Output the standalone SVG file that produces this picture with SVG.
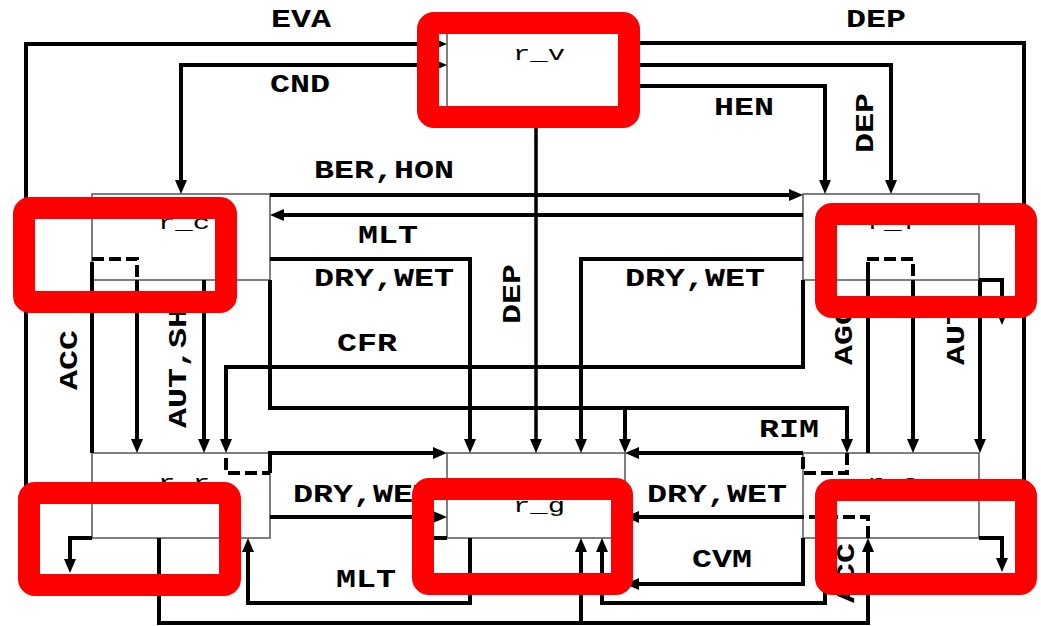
<svg xmlns="http://www.w3.org/2000/svg" width="1041" height="626" viewBox="0 0 1041 626">
<style>
.box{fill:#fff;stroke:#555;stroke-width:1.5}
.name{font-family:"Liberation Mono",monospace;font-size:20px;fill:#000;text-anchor:middle}
.lbl{font-family:"Liberation Mono",monospace;font-size:26px;font-weight:bold;fill:#000;text-anchor:middle}
.c{fill:none;stroke:#000;stroke-width:4;stroke-linejoin:miter}
.a{marker-end:url(#ah)}
.d{fill:none;stroke:#000;stroke-width:4;stroke-dasharray:12,5}
.hl{fill:none;stroke:#ff0000;stroke-width:22}
</style>
<defs>
<marker id="ah" markerWidth="14" markerHeight="12" refX="9" refY="6" orient="auto" markerUnits="userSpaceOnUse"><path d="M0,0 L14,6 L0,12 z" fill="#000"/></marker>
<marker id="ahs" markerWidth="14" markerHeight="12" refX="9" refY="6" orient="auto-start-reverse" markerUnits="userSpaceOnUse"><path d="M0,0 L14,6 L0,12 z" fill="#000"/></marker>
</defs>
<rect width="1041" height="626" fill="#fff"/>
<g id="r_v"><rect class="box" x="447" y="25" width="178" height="87"/><text class="name" x="539" y="60" textLength="52" lengthAdjust="spacingAndGlyphs">r_v</text></g>
<g id="r_c"><rect class="box" x="92" y="194" width="178" height="86"/><text class="name" x="184" y="229" textLength="52" lengthAdjust="spacingAndGlyphs">r_c</text></g>
<g id="r_f"><rect class="box" x="803" y="194" width="176" height="86"/><text class="name" x="893" y="229" textLength="52" lengthAdjust="spacingAndGlyphs">r_f</text></g>
<g id="r_r"><rect class="box" x="92" y="453" width="178" height="85"/><text class="name" x="184" y="489" textLength="52" lengthAdjust="spacingAndGlyphs">r_r</text></g>
<g id="r_g"><rect class="box" x="447" y="453" width="178" height="85"/><text class="name" x="539" y="512" textLength="52" lengthAdjust="spacingAndGlyphs">r_g</text></g>
<g id="r_s"><rect class="box" x="803" y="453" width="176" height="85"/><text class="name" x="893" y="489" textLength="52" lengthAdjust="spacingAndGlyphs">r_s</text></g>
<g id="connectors">
<path class="c a" d="M26,490 V44 H442"/>
<path class="c a" d="M442,65 H181 V189" marker-start="url(#ahs)"/>
<path class="c a" d="M1024,490 V43 H630"/>
<path class="c a" d="M625,65 H891 V189"/>
<path class="c a" d="M625,86 H825 V189"/>
<path class="c a" d="M536,112 V448" style="stroke-width:3.5"/>
<path class="c a" d="M270,195 H798"/>
<path class="c a" d="M803,215 H275"/>
<path class="c a" d="M270,259 H470 V448"/>
<path class="c a" d="M803,259 H581 V448"/>
<path class="c a" d="M803,280 V367 H226 V448"/>
<path class="c a" d="M270,280 V408 H847 V448"/>
<path class="c a" d="M625,408 V448"/>
<path class="d" d="M92,259 H137 V280"/>
<path class="c" d="M92,262 V453"/>
<path class="c a" d="M137,280 V448"/>
<path class="c a" d="M204,280 V448"/>
<path class="d" d="M867,259 H913 V280"/>
<path class="c" d="M868,262 V453"/>
<path class="c a" d="M913,280 V448"/>
<path class="c a" d="M980,280 V448"/>
<path class="c a" d="M979,280 H1002 V320"/>
<path class="d" d="M226,458 V473 H270"/>
<path class="c a" d="M270,473 V453 H442"/>
<path class="c a" d="M270,517 H442"/>
<path class="d" d="M847,453 V473 H803 V455"/>
<path class="c a" d="M803,453 H630"/>
<path class="d" d="M868,538 V517 H803"/>
<path class="c a" d="M803,517 H630"/>
<path class="c a" d="M159,538 V623 H868 V543"/>
<path class="c a" d="M581,623 V543"/>
<path class="c a" d="M470,538 V603 H248 V543"/>
<path class="c a" d="M825,538 V603 H602 V543"/>
<path class="c a" d="M803,538 V584 H630"/>
<path class="c a" d="M92,538 H70 V568"/>
<path class="c a" d="M447,538 H425 V568"/>
<path class="c a" d="M979,538 H1002 V567"/>
</g>
<g id="labels">
<text class="lbl" x="301" y="27" textLength="60" lengthAdjust="spacingAndGlyphs">EVA</text>
<text class="lbl" x="876" y="27" textLength="60" lengthAdjust="spacingAndGlyphs">DEP</text>
<text class="lbl" x="300" y="92" textLength="60" lengthAdjust="spacingAndGlyphs">CND</text>
<text class="lbl" x="744" y="115" textLength="60" lengthAdjust="spacingAndGlyphs">HEN</text>
<text class="lbl" x="384" y="178" textLength="140" lengthAdjust="spacingAndGlyphs">BER,HON</text>
<text class="lbl" x="388" y="243" textLength="60" lengthAdjust="spacingAndGlyphs">MLT</text>
<text class="lbl" x="384" y="286" textLength="140" lengthAdjust="spacingAndGlyphs">DRY,WET</text>
<text class="lbl" x="695" y="286" textLength="140" lengthAdjust="spacingAndGlyphs">DRY,WET</text>
<text class="lbl" x="367" y="351" textLength="60" lengthAdjust="spacingAndGlyphs">CFR</text>
<text class="lbl" x="789" y="437" textLength="60" lengthAdjust="spacingAndGlyphs">RIM</text>
<text class="lbl" x="363" y="502" textLength="140" lengthAdjust="spacingAndGlyphs">DRY,WET</text>
<text class="lbl" x="717" y="502" textLength="140" lengthAdjust="spacingAndGlyphs">DRY,WET</text>
<text class="lbl" x="366" y="587" textLength="60" lengthAdjust="spacingAndGlyphs">MLT</text>
<text class="lbl" x="722" y="567" textLength="60" lengthAdjust="spacingAndGlyphs">CVM</text>
<text class="lbl" transform="translate(68,360) rotate(-90)" x="0" y="9" textLength="60" lengthAdjust="spacingAndGlyphs">ACC</text>
<text class="lbl" transform="translate(177,368) rotate(-90)" x="0" y="9" textLength="120" lengthAdjust="spacingAndGlyphs">AUT,SH</text>
<text class="lbl" transform="translate(511,294) rotate(-90)" x="0" y="9" textLength="60" lengthAdjust="spacingAndGlyphs">DEP</text>
<text class="lbl" transform="translate(864,123) rotate(-90)" x="0" y="9" textLength="60" lengthAdjust="spacingAndGlyphs">DEP</text>
<text class="lbl" transform="translate(843,335) rotate(-90)" x="0" y="9" textLength="60" lengthAdjust="spacingAndGlyphs">AGG</text>
<text class="lbl" transform="translate(955,335) rotate(-90)" x="0" y="9" textLength="60" lengthAdjust="spacingAndGlyphs">AUT</text>
<text class="lbl" transform="translate(845,573) rotate(-90)" x="0" y="9" textLength="60" lengthAdjust="spacingAndGlyphs">ACC</text>
</g>
<g id="highlights">
<rect class="hl" x="428" y="23" width="201" height="94" rx="6"/>
<rect class="hl" x="24" y="208" width="202" height="94" rx="6"/>
<rect class="hl" x="826" y="214" width="200" height="93" rx="6"/>
<rect class="hl" x="29" y="493" width="201" height="92" rx="6"/>
<rect class="hl" x="423" y="489" width="199" height="95" rx="6"/>
<rect class="hl" x="826" y="490" width="200" height="94" rx="6"/>
</g>
</svg>
